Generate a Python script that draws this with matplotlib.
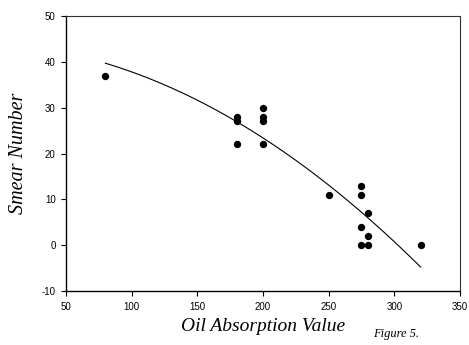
import numpy as np
import matplotlib
matplotlib.use("Agg")
import matplotlib.pyplot as plt

plt.rcParams["axes.unicode_minus"] = False

oil_absorption = [80, 180, 180, 180, 200, 200, 200, 200, 250, 275, 275, 275, 275, 280, 280, 280, 320]
smear_number = [37, 28, 27, 22, 30, 28, 27, 22, 11, 13, 11, 4, 0, 7, 2, 0, 0]
# quadratic regression curve (highest power first)
fit_coefficients = [-0.000412, -0.0205, 43.98]
fit_range = [80, 320]

fig = plt.figure(figsize=(4.69, 3.45), dpi=100)
ax = fig.add_axes([0.1407, 0.1565, 0.8401, 0.7971])

ax.scatter(oil_absorption, smear_number, s=28, color="black", zorder=3, linewidths=0)

xf = np.linspace(fit_range[0], fit_range[1], 200)
ax.plot(xf, np.polyval(fit_coefficients, xf), color="black", lw=0.8)

ax.set_xlim(50, 350)
ax.set_ylim(-10, 50)
ax.set_xticks([50, 100, 150, 200, 250, 300, 350])
ax.set_yticks([-10, 0, 10, 20, 30, 40, 50])
ax.tick_params(direction="out", length=3.5, width=0.8, labelsize=7, top=False, right=False)
ax.tick_params(axis="x", pad=4.5)
ax.tick_params(axis="y", pad=4)
for lab in ax.get_xticklabels() + ax.get_yticklabels():
    lab.set_family("Liberation Sans")
for s in ["left", "bottom"]:
    ax.spines[s].set_linewidth(1.0)
for s in ["top", "right"]:
    ax.spines[s].set_linewidth(0.8)
    ax.spines[s].set_color("#333333")

ax.set_xlabel("Oil Absorption Value", family="Liberation Serif", style="italic", fontsize=14, labelpad=4)
ax.set_ylabel("Smear Number", family="Liberation Serif", style="italic", fontsize=14.5, labelpad=10)
fig.text(0.795, 0.022, "Figure 5.", family="Liberation Serif", style="italic", fontsize=9)

fig.savefig("out.png", dpi=100)
